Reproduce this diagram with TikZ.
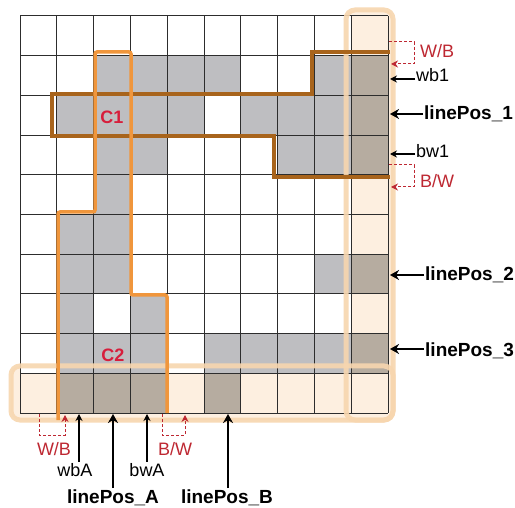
\documentclass[tikz,border=0pt]{standalone}
\usepackage{fontspec}
\setmainfont{Liberation Sans}
\usetikzlibrary{arrows.meta}
\definecolor{grayc}{RGB}{190,190,193}
\definecolor{graybr}{RGB}{182,172,160}
\definecolor{peach}{RGB}{253,239,224}
\definecolor{bandc}{RGB}{247,214,175}
\definecolor{gridc}{RGB}{45,45,45}
\definecolor{c1c}{RGB}{168,100,28}
\definecolor{c2c}{RGB}{240,150,60}
\definecolor{redc}{RGB}{215,30,60}
\definecolor{redd}{RGB}{190,40,50}
\tikzset{
  gridln/.style={draw=gridc, line width=1pt},
  band/.style={draw=bandc, line width=5pt, rounded corners=9pt},
  cone/.style={draw=c1c, line width=4pt},
  ctwo/.style={draw=c2c, line width=3.5pt, rounded corners=2pt},
  lbl/.style={font=\fontsize{18}{20}\selectfont, inner sep=1pt},
  rlbl/.style={lbl, text=redd},
  blbl/.style={font=\fontsize{19}{21}\selectfont\bfseries, inner sep=1pt},
  clbl/.style={font=\fontsize{18}{20}\selectfont\bfseries, text=redc, inner sep=1pt},
  thinarr/.style={draw=black, line width=1.3pt, -{Stealth[length=7pt,width=7pt]}},
  thickarr/.style={draw=black, line width=2.6pt, -{Stealth[length=9pt,width=10pt]}},
  redarr/.style={draw=redd, line width=1pt, dash pattern=on 3pt off 2pt, -{Stealth[length=7pt,width=7pt,fill=redd]}}
}
\begin{document}
\begin{tikzpicture}[x=1pt,y=-1pt]
\useasboundingbox (0,0) rectangle (515,508);
\fill[white] (0,0) rectangle (515,508);
% highlight fills
\fill[peach, rounded corners=9pt] (346,10) rectangle (393,420);
\fill[peach, rounded corners=9pt] (11,366) rectangle (393,420);
\begin{scope}[shift={(20,16)}, x=36.8pt, y=-39.7pt]
  \fill[white] (0,0) rectangle (9,9);
  \foreach \r/\c in {1/2,1/3,1/4,1/5,1/8,
                     2/1,2/2,2/3,2/4,2/6,2/7,2/8,
                     3/2,3/3,3/7,3/8,
                     4/2,
                     5/1,5/2,
                     6/1,6/2,6/8,
                     7/1,7/3,
                     8/1,8/2,8/3,8/5,8/6,8/7,8/8}
    \fill[grayc] (\c,\r) rectangle ++(1,1);
  \foreach \r/\c in {1/9,2/9,3/9,6/9,8/9,9/1,9/2,9/3,9/5}
    \fill[graybr] (\c,\r) rectangle ++(1,1);
  \foreach \i in {0,...,10} {
    \draw[gridln] (\i,0) -- (\i,10);
    \draw[gridln] (0,\i) -- (10,\i);
  }
\end{scope}
% highlight borders
\draw[band, draw opacity=0.9] (346,10) rectangle (393,420);
\draw[band, draw opacity=0.9] (11,366) rectangle (393,420);
% contours
\draw[cone] (390,52) -- (312,52) -- (312,94) -- (52,94) -- (52,136) -- (274,136) -- (274,177) -- (390,177);
\draw[ctwo] (58,420) -- (58,212) -- (95,212) -- (95,52) -- (131,52) -- (131,295) -- (167,295) -- (167,413);
\node[clbl] (C1) at (112,117) {C1};
\node[clbl] (C2) at (113,355) {C2};
% right labels
\node[rlbl, anchor=base west] (WBr) at (419,58) {W/B};
\coordinate (WBrs) at (389,42);
\coordinate (WBrt) at (391,64);
\draw[redarr] (WBrs) -- (414,42) -- (414,64) -- (WBrt);
\node[lbl, anchor=base west] (wb1) at (415,82) {wb1};
\coordinate (wb1t) at (390,79);
\draw[thinarr] (wb1t -| wb1.west) -- (wb1t);
\node[blbl, anchor=base west] (lp1) at (423,120) {linePos\_1};
\coordinate (lp1t) at (390,114);
\draw[thickarr] (lp1t -| lp1.west) -- (lp1t);
\node[lbl, anchor=base west] (bw1) at (415,158) {bw1};
\coordinate (bw1t) at (390,154);
\draw[thinarr] (bw1t -| bw1.west) -- (bw1t);
\node[rlbl, anchor=base west] (BWr) at (419,188) {B/W};
\coordinate (BWrs) at (389,165);
\coordinate (BWrt) at (391,187);
\draw[redarr] (BWrs) -- (414,165) -- (414,187) -- (BWrt);
\node[blbl, anchor=base west] (lp2) at (424,281) {linePos\_2};
\coordinate (lp2t) at (390,275);
\draw[thickarr] (lp2t -| lp2.west) -- (lp2t);
\node[blbl, anchor=base west] (lp3) at (424,356) {linePos\_3};
\coordinate (lp3t) at (390,349);
\draw[thickarr] (lp3t -| lp3.west) -- (lp3t);
% bottom labels
\node[rlbl, anchor=base] (WBb) at (54,455) {W/B};
\coordinate (WBbs) at (39,414);
\coordinate (WBbt) at (65,415);
\draw[redarr] (WBbs) -- (39,435) -- (65,435) -- (WBbt);
\node[lbl, anchor=base] (wbA) at (75,476) {wbA};
\coordinate (wbAt) at (79,414);
\draw[thinarr] (wbA.north -| wbAt) -- (wbAt);
\node[blbl, anchor=base] (lpA) at (113,503) {linePos\_A};
\coordinate (lpAt) at (113,414);
\draw[thickarr] (lpA.north -| lpAt) -- (lpAt);
\node[lbl, anchor=base] (bwA) at (147,476) {bwA};
\coordinate (bwAt) at (147,414);
\draw[thinarr] (bwA.north -| bwAt) -- (bwAt);
\node[rlbl, anchor=base] (BWb) at (175,455) {B/W};
\coordinate (BWbs) at (162,414);
\coordinate (BWbt) at (185,415);
\draw[redarr] (BWbs) -- (162,435) -- (185,435) -- (BWbt);
\node[blbl, anchor=base] (lpB) at (227,503) {linePos\_B};
\coordinate (lpBt) at (228,414);
\draw[thickarr] (lpB.north -| lpBt) -- (lpBt);
\end{tikzpicture}
\end{document}
